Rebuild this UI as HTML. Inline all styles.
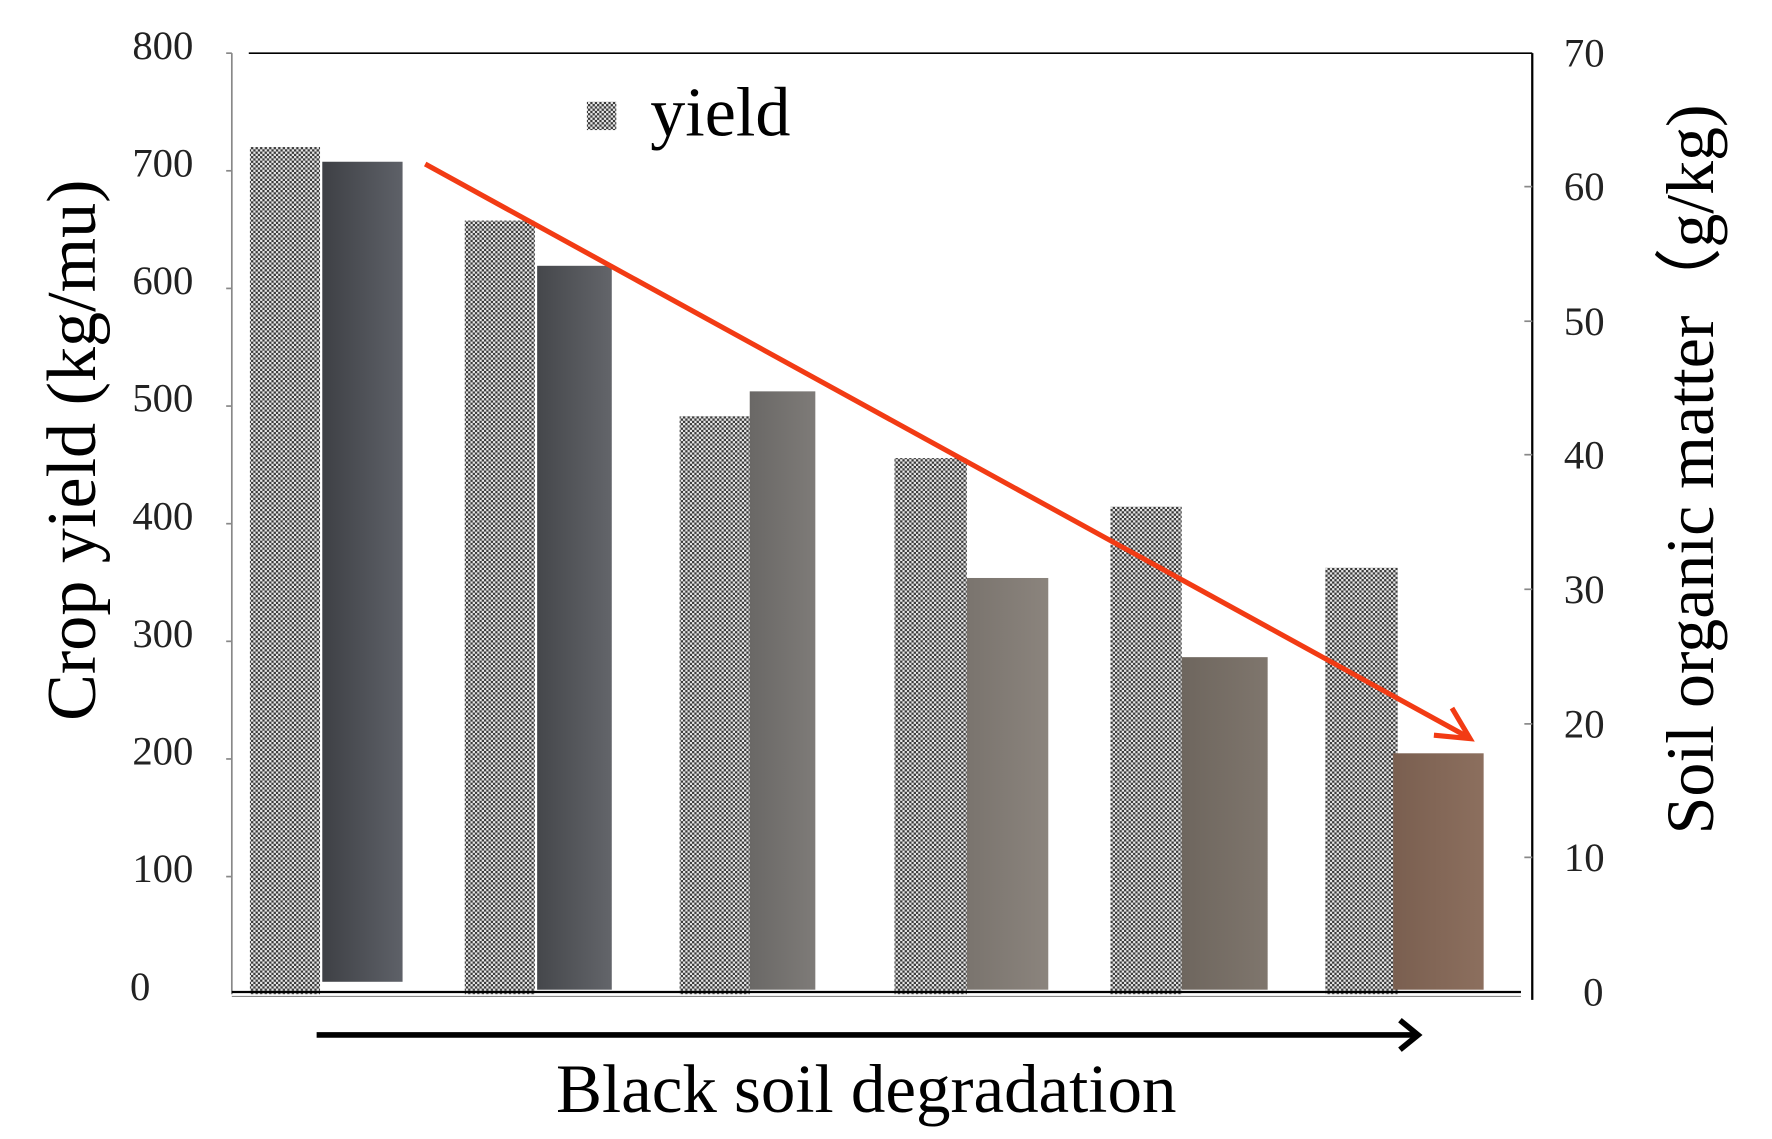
<!DOCTYPE html>
<html><head><meta charset="utf-8"><style>html,body{margin:0;padding:0;background:#fff}svg{display:block}</style></head>
<body>
<svg width="1772" height="1139" viewBox="0 0 1567 1007" preserveAspectRatio="none" xmlns="http://www.w3.org/2000/svg" font-family="Liberation Serif, serif">
<defs>
<pattern id="ck" width="4" height="4" patternUnits="userSpaceOnUse">
<rect width="4" height="4" fill="#e6e6e6"/><rect width="2" height="2" fill="#3a3a3a"/><rect x="2" y="2" width="2" height="2" fill="#3a3a3a"/>
</pattern>
<linearGradient id="g1" x1="0" x2="1"><stop offset="0" stop-color="#3e4045"/><stop offset="1" stop-color="#5e6168"/></linearGradient>
<linearGradient id="g2" x1="0" x2="1"><stop offset="0" stop-color="#45474b"/><stop offset="1" stop-color="#63656a"/></linearGradient>
<linearGradient id="g3" x1="0" x2="1"><stop offset="0" stop-color="#6a6866"/><stop offset="1" stop-color="#7e7b78"/></linearGradient>
<linearGradient id="g4" x1="0" x2="1"><stop offset="0" stop-color="#7a746e"/><stop offset="1" stop-color="#8b847d"/></linearGradient>
<linearGradient id="g5" x1="0" x2="1"><stop offset="0" stop-color="#6e665e"/><stop offset="1" stop-color="#7f766d"/></linearGradient>
<linearGradient id="g6" x1="0" x2="1"><stop offset="0" stop-color="#7a5f50"/><stop offset="1" stop-color="#8c6f5e"/></linearGradient>
</defs>
<line x1="220" y1="47" x2="1355" y2="47" stroke="#000" stroke-width="1.5"/>
<line x1="205" y1="47" x2="205" y2="879" stroke="#888" stroke-width="1.5"/>
<line x1="1355" y1="47" x2="1355" y2="884" stroke="#000" stroke-width="2"/>
<g stroke="#888" stroke-width="1.5">
<line x1="200" y1="47" x2="205" y2="47"/><line x1="200" y1="151" x2="205" y2="151"/><line x1="200" y1="255" x2="205" y2="255"/><line x1="200" y1="359" x2="205" y2="359"/><line x1="200" y1="463" x2="205" y2="463"/><line x1="200" y1="567" x2="205" y2="567"/><line x1="200" y1="671" x2="205" y2="671"/><line x1="200" y1="775" x2="205" y2="775"/>
<line x1="1348" y1="165" x2="1355" y2="165"/><line x1="1348" y1="284" x2="1355" y2="284"/><line x1="1348" y1="402" x2="1355" y2="402"/><line x1="1348" y1="521" x2="1355" y2="521"/><line x1="1348" y1="640" x2="1355" y2="640"/><line x1="1348" y1="758" x2="1355" y2="758"/>
</g>
<g font-size="36" fill="#222" text-anchor="end">
<text x="171" y="52">800</text><text x="171" y="156">700</text><text x="171" y="260">600</text><text x="171" y="364">500</text><text x="171" y="468">400</text><text x="171" y="572">300</text><text x="171" y="676">200</text><text x="171" y="780">100</text><text x="133" y="884">0</text>
</g>
<g font-size="36" fill="#222">
<text x="1383" y="59">70</text><text x="1383" y="177">60</text><text x="1383" y="296">50</text><text x="1383" y="414">40</text><text x="1383" y="533">30</text><text x="1383" y="652">20</text><text x="1383" y="770">10</text><text x="1400" y="889">0</text>
</g>
<text transform="translate(84,398) rotate(-90)" font-size="62" text-anchor="middle">Crop yield (kg/mu)</text>
<text transform="translate(1515,415) rotate(-90)" font-size="60" text-anchor="middle">Soil organic matter（g/kg)</text>
<rect x="519" y="90" width="26" height="25" fill="url(#ck)"/>
<text x="575" y="120" font-size="62">yield</text>
<rect x="221" y="130" width="62" height="749" fill="url(#ck)"/>
<rect x="285" y="143" width="71" height="725" fill="url(#g1)"/>
<rect x="411" y="195" width="62" height="684" fill="url(#ck)"/>
<rect x="475" y="235" width="66" height="640" fill="url(#g2)"/>
<rect x="601" y="368" width="62" height="511" fill="url(#ck)"/>
<rect x="663" y="346" width="58" height="529" fill="url(#g3)"/>
<rect x="791" y="405" width="64" height="474" fill="url(#ck)"/>
<rect x="855" y="511" width="72" height="364" fill="url(#g4)"/>
<rect x="982" y="448" width="63" height="431" fill="url(#ck)"/>
<rect x="1045" y="581" width="76" height="294" fill="url(#g5)"/>
<rect x="1172" y="502" width="64" height="377" fill="url(#ck)"/>
<rect x="1232" y="666" width="80" height="209" fill="url(#g6)"/>
<line x1="205" y1="877" x2="1345" y2="877" stroke="#000" stroke-width="2"/>
<line x1="205" y1="881" x2="1345" y2="881" stroke="#888" stroke-width="1"/>
<line x1="376" y1="145" x2="1297" y2="651" stroke="#f23b14" stroke-width="4.5"/>
<polyline points="1268,650 1300,653 1284,626" fill="none" stroke="#f23b14" stroke-width="4.5"/>
<line x1="280" y1="915" x2="1252" y2="915" stroke="#000" stroke-width="5"/>
<polyline points="1238,902 1254,915 1238,928" fill="none" stroke="#000" stroke-width="5"/>
<text x="766" y="983" font-size="61" text-anchor="middle">Black soil degradation</text>
</svg>
</body></html>
